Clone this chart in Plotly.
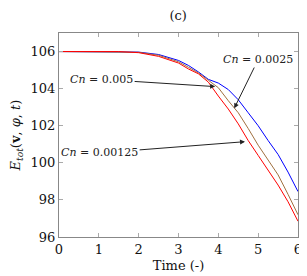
import plotly.graph_objects as go

time = [0, 0.5, 1, 1.5, 2, 2.5, 3, 3.25, 3.5, 3.75, 4, 4.25, 4.5, 4.75, 5, 5.25, 5.5, 5.75, 6]
e_cn005 = [106, 106, 106, 106, 105.97, 105.84, 105.52, 105.25, 104.9, 104.5, 104.3, 103.95, 103.4, 102.7, 102.0, 101.2, 100.45, 99.5, 98.45]
e_cn0025 = [106, 106, 106, 106, 105.96, 105.8, 105.45, 105.15, 104.85, 104.45, 104.05, 103.35, 102.7, 101.85, 100.95, 100.15, 99.35, 98.3, 97.2]
e_cn00125 = [106, 106, 106, 106, 105.94, 105.74, 105.38, 105.06, 104.8, 104.35, 103.6, 102.9, 102.1, 101.2, 100.4, 99.6, 98.8, 97.9, 96.85]

series = [("Cn = 0.005", e_cn005, "#0000ff"),
          ("Cn = 0.0025", e_cn0025, "#a0703f"),
          ("Cn = 0.00125", e_cn00125, "#ff0000")]

font = "DejaVu Serif"
fig = go.Figure()
for name, vals, col in series:
    fig.add_trace(go.Scatter(x=time, y=vals, mode="lines", name=name,
                             line=dict(color=col, width=1)))

ann = [
    ("<i>Cn</i> = 0.005", 1.07, 104.5, 3.92, 104.11),
    ("<i>Cn</i> = 0.0025", 5.0, 105.57, 4.40, 102.94),
    ("<i>Cn</i> = 0.00125", 1.02, 100.53, 4.67, 101.14),
]
for txt, tx, ty, hx, hy in ann:
    fig.add_annotation(x=hx, y=hy, ax=tx, ay=ty, xref="x", yref="y", axref="x", ayref="y",
                       text=txt, showarrow=True, arrowhead=2, arrowsize=1, arrowwidth=1,
                       arrowcolor="#222", font=dict(family=font, size=11, color="#222"))

axis_common = dict(showgrid=False, zeroline=False, showline=True, linecolor="#888",
                   linewidth=1, mirror="ticks", ticks="inside", ticklen=4, tickcolor="#aaa",
                   automargin=False,
                   tickfont=dict(family=font, size=13, color="#111"))
fig.update_xaxes(range=[0, 6], dtick=1,
                 title=dict(text="Time (-)", font=dict(family=font, size=13, color="#111"), standoff=5),
                 **axis_common)
fig.update_yaxes(range=[96, 107], tickvals=[96, 98, 100, 102, 104, 106],
                 title=dict(text="<i>E<sub>tot</sub></i>(<b>v</b>, <i>φ</i>, <i>t</i>)",
                            font=dict(family=font, size=13, color="#111"), standoff=9),
                 **axis_common)
# page body has an 8px margin, so the figure is sized/offset to compensate
fig.update_layout(width=299, height=268, margin=dict(l=51, r=9, t=25, b=39),
                  plot_bgcolor="white", paper_bgcolor="white", showlegend=False,
                  title=dict(text="(c)", x=0.569, xanchor="center", y=0.972, yanchor="middle",
                             font=dict(family=font, size=13, color="#111")))
fig.write_html("out.html")
